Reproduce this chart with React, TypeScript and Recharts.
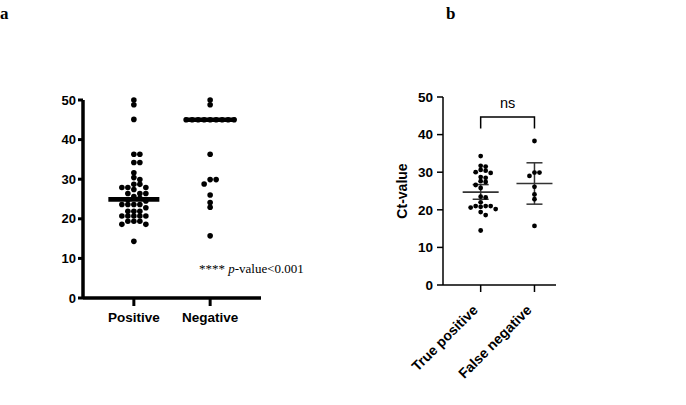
import React from 'react';
import { ScatterChart, Scatter, XAxis, YAxis, ErrorBar } from 'recharts';

// panel a
const categoriesA = ['Positive', 'Negative'];
const positiveCt = [
  50, 48.8, 45.1, 36.3, 36.3, 34.2, 34.2, 31.6, 30.4, 29.9, 28.7, 28.7, 27.9, 27.9, 27.9, 27.4,
  26.4, 26.4, 26.4, 25.6, 25.2, 24.8, 24.5, 23.6, 23.6, 23.6, 23.6, 22.8, 21.9, 21.9, 21.9, 20.7,
  20.7, 20.7, 20.7, 20.7, 19.4, 19.4, 19.4, 18.6, 18.6, 14.3,
];
const negativeCt = [50, 48.8, 45, 45, 45, 45, 45, 45, 45, 45, 45, 36.3, 29.9, 29.9, 28.8, 26.0, 24.1, 22.9, 15.7];
const mediansA = [24.9, 45];
const yTicks = [0, 10, 20, 30, 40, 50];

// panel b
const categoriesB = ['True positive', 'False negative'];
const truePositiveCt = [
  34.3, 31.7, 31.5, 30.6, 30.4, 30.0, 29.8, 28.7, 28.5, 27.6, 27.4, 26.6, 25.8, 23.5, 23.3, 22.0,
  21.0, 21.0, 21.0, 20.8, 20.6, 20.2, 19.4, 18.6, 14.5,
];
const falseNegativeCt = [38.3, 29.9, 29.9, 29.0, 26.1, 24.1, 22.8, 15.7];
const meansB = [24.7, 27.0];
const ciLowB = [22.8, 21.5];
const ciHighB = [26.7, 32.5];
const bracketB = [41.6, 44.7];
const bracketText = 'ns';

// axis positions of the groups
const catPosA = [1, 2.5];
const catPosB = [1, 2];

const sans = 'Liberation Sans, Arial, sans-serif';
const serif = 'Liberation Serif, Times New Roman, serif';

// simple beeswarm: push a dot sideways until it no longer hits an earlier one (pixel units)
function swarmOffsets(values: number[], pxPerY: number, pxPerX: number, diam: number, rowGap: number) {
  const placed: { x: number; y: number }[] = [];
  return values.map((v) => {
    const y = v * pxPerY;
    let dx = 0;
    for (let k = 0; k < 600; k++) {
      const cand = k === 0 ? 0 : (k % 2 === 1 ? 1 : -1) * Math.ceil(k / 2) * 0.5;
      const hit = placed.some((p) => Math.abs(p.y - y) < rowGap && Math.abs(p.x - cand) < diam);
      if (!hit) {
        dx = cand;
        break;
      }
    }
    placed.push({ x: dx, y });
    return dx / pxPerX;
  });
}

const toPoints = (values: number[], pos: number, pxPerY: number, pxPerX: number, diam: number, gap: number) => {
  const offs = swarmOffsets(values, pxPerY, pxPerX, diam, gap);
  return values.map((v, i) => ({ x: pos + offs[i], y: v }));
};

// a: plot 178 x 198 px, x domain 3.5, y domain 50
const pxA = { x: 178 / 3.5, y: 198 / 50 };
const dotsA = [
  ...toPoints(positiveCt, catPosA[0], pxA.y, pxA.x, 5.8, 4.6),
  ...toPoints(negativeCt, catPosA[1], pxA.y, pxA.x, 5.6, 4.6),
];
const medianDataA = mediansA.map((m, i) => ({ x: catPosA[i], y: m }));

// b: plot 113 x 188 px, x domain 2.1, y domain 50
const pxB = { x: 113 / 2.1, y: 188 / 50 };
const dotsB = [
  ...toPoints(truePositiveCt, catPosB[0], pxB.y, pxB.x, 5, 4),
  ...toPoints(falseNegativeCt, catPosB[1], pxB.y, pxB.x, 5, 4),
];
const meanDataB = meansB.map((m, i) => ({
  x: catPosB[i],
  y: m,
  err: [m - ciLowB[i], ciHighB[i] - m],
}));
const bracketData = [
  { x: catPosB[0], y: bracketB[0] },
  { x: catPosB[0], y: bracketB[1] },
  { x: catPosB[1], y: bracketB[1] },
  { x: catPosB[1], y: bracketB[0] },
];
const nsData = [{ x: (catPosB[0] + catPosB[1]) / 2, y: bracketB[1] }];

const Dot = (r: number) => (props: any) => <circle cx={props.cx} cy={props.cy} r={r} fill="#000" />;

const RotatedTick = (props: any) => {
  const { x, y, payload } = props;
  const label = categoriesB[catPosB.indexOf(payload.value)];
  return (
    <text
      x={x - 2}
      y={y + 17}
      transform={`rotate(-45, ${x - 2}, ${y + 17})`}
      textAnchor="end"
      fontFamily={sans}
      fontWeight={700}
      fontSize={14}
      fill="#000"
    >
      {label}
    </text>
  );
};

export default function App() {
  return (
    <div style={{ position: 'absolute', left: 0, top: 0, width: 686, height: 405, background: '#fff' }}>
      <div style={{ position: 'absolute', left: 0, top: 0 }}>
        <ScatterChart width={300} height={405} margin={{ top: 100, right: 39, bottom: 0, left: 0 }}>
          <XAxis
            type="number"
            dataKey="x"
            domain={[0, 3.5]}
            ticks={catPosA}
            tickFormatter={(v) => categoriesA[catPosA.indexOf(v)]}
            height={107}
            axisLine={{ stroke: '#000', strokeWidth: 3.5 }}
            tickLine={{ stroke: '#000', strokeWidth: 3 }}
            tickSize={8}
            tickMargin={6}
            tick={{ fill: '#000', fontSize: 13.5, fontWeight: 700, fontFamily: sans }}
          />
          <YAxis
            type="number"
            dataKey="y"
            domain={[0, 50]}
            ticks={yTicks}
            width={83}
            axisLine={{ stroke: '#000', strokeWidth: 3.5 }}
            tickLine={{ stroke: '#000', strokeWidth: 3 }}
            tickSize={5}
            tickMargin={2}
            tick={{ fill: '#000', fontSize: 13, fontWeight: 700, fontFamily: sans }}
          />
          <Scatter data={dotsA} shape={Dot(2.8)} isAnimationActive={false} />
          <Scatter
            data={medianDataA}
            isAnimationActive={false}
            shape={(p: any) => (
              <line x1={p.cx - 25.5} x2={p.cx + 25.5} y1={p.cy} y2={p.cy} stroke="#000" strokeWidth={4.6} />
            )}
          />
        </ScatterChart>
      </div>
      <div style={{ position: 'absolute', left: 362, top: 0 }}>
        <ScatterChart width={208} height={405} margin={{ top: 97, right: 14, bottom: 0, left: 0 }}>
          <XAxis
            type="number"
            dataKey="x"
            domain={[0.3, 2.4]}
            ticks={catPosB}
            height={120}
            axisLine={{ stroke: '#000', strokeWidth: 1.5 }}
            tickLine={{ stroke: '#000', strokeWidth: 1.5 }}
            tickSize={7}
            tickMargin={2}
            tick={<RotatedTick />}
          />
          <YAxis
            type="number"
            dataKey="y"
            domain={[0, 50]}
            ticks={yTicks}
            width={81}
            axisLine={{ stroke: '#000', strokeWidth: 1.5 }}
            tickLine={{ stroke: '#000', strokeWidth: 1.5 }}
            tickSize={6}
            tickMargin={4}
            tick={{ fill: '#000', fontSize: 13.5, fontWeight: 700, fontFamily: sans }}
            label={{
              value: 'Ct-value',
              angle: -90,
              position: 'center',
              fill: '#000',
              fontSize: 14,
              fontWeight: 700,
              fontFamily: sans,
            }}
          />
          <Scatter
            data={bracketData}
            isAnimationActive={false}
            line={{ stroke: '#000', strokeWidth: 1.5 }}
            shape={() => <g />}
          />
          <Scatter
            data={nsData}
            isAnimationActive={false}
            shape={(p: any) => (
              <text x={p.cx} y={p.cy - 9} textAnchor="middle" fontFamily={sans} fontSize={14.5} fill="#000">
                {bracketText}
              </text>
            )}
          />
          <Scatter data={dotsB} shape={Dot(2.4)} isAnimationActive={false} />
          <Scatter
            data={meanDataB}
            isAnimationActive={false}
            shape={(p: any) => (
              <line x1={p.cx - 18} x2={p.cx + 18} y1={p.cy} y2={p.cy} stroke="#333" strokeWidth={1.6} />
            )}
          >
            <ErrorBar dataKey="err" direction="y" width={8} stroke="#333" strokeWidth={1.5} />
          </Scatter>
        </ScatterChart>
      </div>
      <svg
        width={686}
        height={405}
        style={{ position: 'absolute', left: 0, top: 0, pointerEvents: 'none' }}
      >
        <text x={0} y={19} fontFamily={serif} fontWeight={700} fontSize={17} fill="#000">
          a
        </text>
        <text x={446} y={19} fontFamily={serif} fontWeight={700} fontSize={17} fill="#000">
          b
        </text>
        <text x={199} y={273} fontFamily={serif} fontSize={13} fill="#000">
          **** <tspan fontStyle="italic">p</tspan>-value&lt;0.001
        </text>
      </svg>
    </div>
  );
}
